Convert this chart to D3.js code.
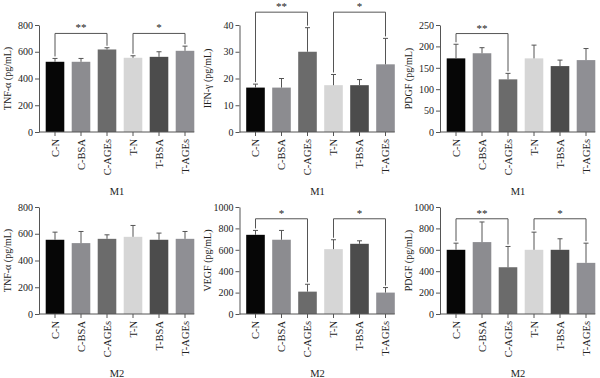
<!DOCTYPE html>
<html>
<head>
<meta charset="utf-8"/>
<title>M1 / M2 cytokines</title>
<script src="https://cdn.jsdelivr.net/npm/d3@7"></script>
<style>
body { margin: 0; background: #fff; }
svg text { font-family: "Liberation Serif", "DejaVu Serif", serif; fill: #222; }
</style>
</head>
<body>
<div id="chart"></div>
<script>
// groups and bar shades
const groups = ["C-N", "C-BSA", "C-AGEs", "T-N", "T-BSA", "T-AGEs"];
const barColors = ["#060606", "#8c8c90", "#6b6b6b", "#d6d6d6", "#4c4c4c", "#8f8f94"];

// mean values
const tnfM1 = [525, 525, 617, 555, 562, 607];
const ifnM1 = [16.6, 16.6, 30, 17.5, 17.5, 25.3];
const pdgfM1 = [172, 184, 123, 172, 154, 168];
const tnfM2 = [555, 530, 562, 577, 555, 562];
const vegfM2 = [740, 694, 209, 606, 656, 200];
const pdgfM2 = [600, 672, 437, 600, 600, 478];

// SD (upper error bar length)
const tnfM1Sd = [25, 25, 13, 15, 38, 35];
const ifnM1Sd = [1.3, 3.4, 9, 4, 2.1, 9.7];
const pdgfM1Sd = [33, 13, 14, 31, 14, 27];
const tnfM2Sd = [57, 87, 30, 85, 50, 55];
const vegfM2Sd = [41, 87, 69, 88, 28, 47];
const pdgfM2Sd = [62, 188, 194, 165, 103, 184];

// axis ticks
const ticks800 = [0, 200, 400, 600, 800];
const ticks40 = [0, 10, 20, 30, 40];
const ticks250 = [0, 50, 100, 150, 200, 250];
const ticks1000 = [0, 200, 400, 600, 800, 1000];

// significance brackets: [from, to, level, label]
const sigTnfM1 = [[0, 2, 737, "**"], [3, 5, 737, "*"]];
const sigIfnM1 = [[0, 2, 44.8, "**"], [3, 5, 44.8, "*"]];
const sigPdgfM1 = [[0, 2, 230, "**"]];
const sigVegfM2 = [[0, 2, 890, "*"], [3, 5, 890, "*"]];
const sigPdgfM2 = [[0, 2, 890, "**"], [3, 5, 890, "*"]];

const panels = [
  {col: 0, row: 0, ylab: "TNF-α (pg/mL)", xlab: "M1", max: 800, ticks: ticks800, mean: tnfM1, sd: tnfM1Sd, sig: sigTnfM1},
  {col: 1, row: 0, ylab: "IFN-γ (pg/mL)", xlab: "M1", max: 40, ticks: ticks40, mean: ifnM1, sd: ifnM1Sd, sig: sigIfnM1},
  {col: 2, row: 0, ylab: "PDGF (pg/mL)", xlab: "M1", max: 250, ticks: ticks250, mean: pdgfM1, sd: pdgfM1Sd, sig: sigPdgfM1},
  {col: 0, row: 1, ylab: "TNF-α (pg/mL)", xlab: "M2", max: 800, ticks: ticks800, mean: tnfM2, sd: tnfM2Sd, sig: []},
  {col: 1, row: 1, ylab: "VEGF (pg/mL)", xlab: "M2", max: 1000, ticks: ticks1000, mean: vegfM2, sd: vegfM2Sd, sig: sigVegfM2},
  {col: 2, row: 1, ylab: "PDGF (pg/mL)", xlab: "M2", max: 1000, ticks: ticks1000, mean: pdgfM2, sd: pdgfM2Sd, sig: sigPdgfM2}
];

const W = 600, H = 378;
const rowTop = [25, 207], plotH = 107;
const axisCol = "#555";

const svg = d3.select("#chart").append("svg")
    .attr("width", W)
    .attr("height", H);

panels.forEach(p => {
  const g = svg.append("g")
      .attr("transform", "translate(" + (p.col * 200.5) + "," + rowTop[p.row] + ")");

  const x = d3.scaleBand().domain(groups)
      .range([42, 198]).paddingInner(0.285).paddingOuter(0.1425);
  const y = d3.scaleLinear().domain([0, p.max]).range([plotH, 0]);

  // y axis
  const ya = g.append("g")
      .attr("transform", "translate(39,0)")
      .call(d3.axisLeft(y).tickValues(p.ticks).tickFormat(d3.format("d"))
        .tickSize(4).tickSizeOuter(0).tickPadding(2));
  ya.select(".domain").attr("stroke", axisCol);
  ya.selectAll(".tick line").attr("stroke", axisCol);
  ya.selectAll("text").attr("font-size", 10).attr("fill", "#222");

  // bars
  g.selectAll(".bar")
      .data(p.mean)
      .enter()
      .append("rect")
      .attr("x", (d, i) => x(groups[i]))
      .attr("y", d => y(d))
      .attr("width", x.bandwidth())
      .attr("height", d => plotH - y(d))
      .attr("fill", (d, i) => barColors[i]);

  // error bars
  const eb = g.selectAll(".err")
      .data(p.mean)
      .enter()
      .append("g")
      .attr("stroke", axisCol)
      .attr("stroke-width", 1);
  eb.append("line")
      .attr("x1", (d, i) => x(groups[i]) + x.bandwidth() / 2)
      .attr("x2", (d, i) => x(groups[i]) + x.bandwidth() / 2)
      .attr("y1", d => y(d))
      .attr("y2", (d, i) => y(d + p.sd[i]));
  eb.append("line")
      .attr("x1", (d, i) => x(groups[i]) + x.bandwidth() / 2 - 2.5)
      .attr("x2", (d, i) => x(groups[i]) + x.bandwidth() / 2 + 2.5)
      .attr("y1", (d, i) => y(d + p.sd[i]))
      .attr("y2", (d, i) => y(d + p.sd[i]));

  // x axis
  const xa = g.append("g")
      .attr("transform", "translate(0," + plotH + ")")
      .call(d3.axisBottom(x).tickSize(4).tickSizeOuter(0));
  xa.select(".domain").remove();
  xa.selectAll(".tick line").attr("stroke", axisCol);
  xa.append("line")
      .attr("x1", 39).attr("x2", x("T-AGEs") + x.bandwidth())
      .attr("stroke", axisCol);
  xa.selectAll("text")
      .attr("font-size", 10.5)
      .attr("fill", "#222")
      .attr("text-anchor", "end")
      .attr("transform", "rotate(-90)")
      .attr("x", -7)
      .attr("y", 0)
      .attr("dy", "0.35em");

  // axis titles
  g.append("text")
      .attr("transform", "translate(7," + (plotH / 2) + ") rotate(-90)")
      .attr("text-anchor", "middle")
      .attr("dy", "0.35em")
      .attr("font-size", 10)
      .text(p.ylab);
  g.append("text")
      .attr("x", 117)
      .attr("y", plotH + 63)
      .attr("text-anchor", "middle")
      .attr("font-size", 10.5)
      .text(p.xlab);

  // significance brackets
  p.sig.forEach(s => {
    const x1 = x(groups[s[0]]) + x.bandwidth() / 2;
    const x2 = x(groups[s[1]]) + x.bandwidth() / 2;
    const yb = y(s[2]);
    const y1 = y(p.mean[s[0]] + p.sd[s[0]]) - 2;
    const y2 = y(p.mean[s[1]] + p.sd[s[1]]) - 2;
    g.append("path")
        .attr("d", "M" + x1 + "," + y1 + "V" + yb + "H" + x2 + "V" + y2)
        .attr("fill", "none")
        .attr("stroke", axisCol)
        .attr("stroke-width", 1);
    g.append("text")
        .attr("x", (x1 + x2) / 2)
        .attr("y", yb - 2)
        .attr("text-anchor", "middle")
        .attr("font-size", 11)
        .attr("fill", "#444")
        .text(s[3]);
  });
});
</script>
</body>
</html>
